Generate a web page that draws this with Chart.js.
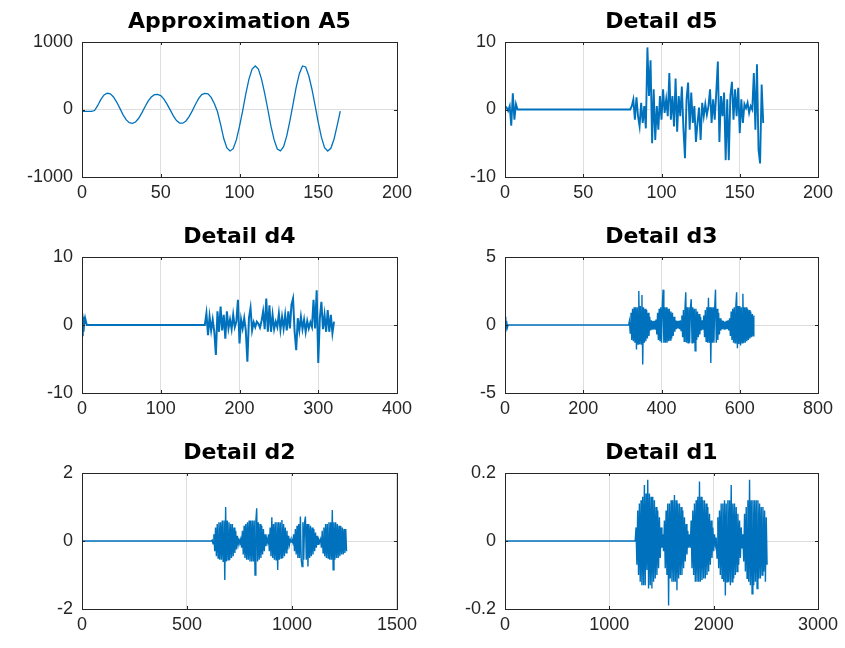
<!DOCTYPE html>
<html>
<head>
<meta charset="utf-8">
<script src="https://cdn.jsdelivr.net/npm/chart.js@4.4.0/dist/chart.umd.min.js"></script>
<style>
  body { margin: 0; background: #fff; }
  .box { position: absolute; }
</style>
</head>
<body>
<div class="box" id="b1" style="left:0px;top:9px;width:422px;height:198px"><canvas id="c1"></canvas></div>
<div class="box" id="b2" style="left:420px;top:9px;width:425px;height:198px"><canvas id="c2"></canvas></div>
<div class="box" id="b3" style="left:0px;top:224px;width:422px;height:199px"><canvas id="c3"></canvas></div>
<div class="box" id="b4" style="left:420px;top:224px;width:425px;height:199px"><canvas id="c4"></canvas></div>
<div class="box" id="b5" style="left:0px;top:440px;width:422px;height:199px"><canvas id="c5"></canvas></div>
<div class="box" id="b6" style="left:420px;top:440px;width:425px;height:199px"><canvas id="c6"></canvas></div>
<script>
// titles and tick labels
var titles = ["Approximation A5", "Detail d5", "Detail d4", "Detail d3", "Detail d2", "Detail d1"];
var xTickLabels = [
  [0, 50, 100, 150, 200],
  [0, 50, 100, 150, 200],
  [0, 100, 200, 300, 400],
  [0, 200, 400, 600, 800],
  [0, 500, 1000, 1500],
  [0, 1000, 2000, 3000]
];
var yTickLabels = [
  [-1000, 0, 1000],
  [-10, 0, 10],
  [-10, 0, 10],
  [-5, 0, 5],
  [-2, 0, 2],
  [-0.2, 0, 0.2]
];

// approximation A5, one value every 2 samples from 0
var a5Step = 2;
var a5Values = [-27, -27, -27, -27, -15, 60, 150, 215, 240, 232, 185, 110, 20, -75, -150, -195, -205,
  -185, -130, -50, 40, 125, 185, 220, 225, 205, 155, 80, -5, -95, -165, -200, -203, -170, -105,
  -20, 75, 160, 220, 240, 232, 180, 90, -30, -220, -430, -570, -615, -580, -450, -250, -20, 230,
  450, 600, 645, 600, 450, 240, 0, -250, -450, -585, -612, -550, -390, -170, 80, 330, 530, 645,
  630, 500, 300, 60, -190, -410, -565, -615, -575, -440, -240, -25];

// detail d5: head from 0 (step 1), burst from 80 (step 1)
var d5Head = [0.5, 0.3, -0.2, 0.5, -2.4, 2.4, -1.5, 0.8, 0];
var d5Start = 80;
var d5Step = 1;
var d5Burst = [0, 0.5, 1.5, -1.5, 1.8, -1, -2.5, 1, -2, 0.5, -2.8, 9.2, 2, 7.3, -5, 3, -4.5, 0.5, -3, 2,
  -1.5, 3, -0.5, 1.5, -1, 5.4, -1.5, 2, -2.5, 4.6, -3.3, 2, -1, 3.4, -2.8, -7.2, 1.5, 4, -3, 2.5,
  -2, 0.5, -4.8, -2, 0.3, -4.5, 1, -1, 0.8, -0.8, 0.5, 3, -2, 1.5, -1.5, 2.5, 7.1, -4.8, 2, -1,
  2.5, -7.5, 1.5, -7.5, 2, 4.1, -1.5, 3, -1, 3.2, -3.5, 1.5, -2, 0.8, 0.2, 1, -0.5, 0.5, 0, 5.4,
  -3, 6.7, -6, -8, 3.7, -2];

// detail d4: head from 0 (step 1), burst from 156 (step 2)
var d4Head = [-1.5, 1.2, -1, 0.8, 0.3, 0.5, 0, 0, 0];
var d4Start = 156;
var d4Step = 2;
var d4Burst = [0, 1.7, -1.5, 1.2, -0.8, 0.8, -1, -4.4, 2, -1, 2.7, -0.8, 1.5, -2, 2, -0.5, 0.8, -0.6,
  1.5, -0.3, 0.5, 3.7, -2.7, 0.8, -0.5, 1, -0.8, -5.4, 1, 2.5, -0.8, 0.4, -0.3, 0.5, 0.2, -0.4,
  0.6, 2, -0.6, 3.9, -1, 2.9, -1, 1.5, -0.6, 0.5, -0.3, 1.7, -0.7, 1.2, -0.5, 1.5, -0.8, 2, -0.5,
  3, 3.9, -1, -3.7, 1, -0.8, 1.2, -0.6, 0.8, -1, 0.6, -0.5, 0.4, -0.3, 3.7, -0.5, 5.1, -5.6, 1,
  3.4, -0.6, 1.5, -1, 2.2, -1, 1.5, -1.2, 0.5];

// detail d3: head from 0 (step 2), burst from 316 (step 2)
var d3Head = [0.6, -0.5, 0.3, -0.2, 0];
var d3Start = 316;
var d3Step = 2;
var d3Burst = [0, 0.3,
  -0.6, 0.9, -1.1, 1.2, -1.2, 1.3, -1.3, 1.3, -1.8, 1.3, -1.4, 2.5, -1.4, 1.4, -1.4, 2.2, -2.9, 1.3,
  -1.3, 1.2, -1.2, 1.1, -1.0, 0.9, -0.8, 0.6,
  -0.4, 0.35, -0.3, 0.3, -0.3, 0.3, -0.35, 0.4,
  -0.7, 0.9, -1.1, 1.2, -1.2, 1.3, -1.3, 1.3, 2.6, -1.3, 1.3, -1.3, 1.3, -1.3, 1.2, -1.2, 1.2, -1.1,
  1.0, -1.0, 0.9, -0.8, 0.6, -0.5,
  0.35, -0.3, 0.3, -0.25, 0.3, -0.3, 0.35, -0.4,
  0.7, -0.9, 1.1, -1.2, 1.2, 2.4, -1.3, 1.3, -1.3, 1.3, -1.3, 1.3, 1.9, -1.3, 1.3, -1.3, 1.2, -1.9,
  1.2, -1.1, 1.0, -0.9, 0.8, -0.7, 0.6, -0.4,
  0.35, -0.35,
  0.7, -0.9, 1.1, -1.2, 1.3, -1.3, 2.0, -1.3, 1.3, -2.8, 1.3, -1.3, 1.3, -1.3, 1.3, 2.6, -1.3, 1.2,
  -1.1, 0.9, -0.7, 0.5,
  -0.4, 0.35, -0.3, 0.3, -0.3, 0.25, -0.3, 0.3, -0.3, 0.35, -0.4, 0.5,
  -0.8, 1.0, -1.1, 1.2, -1.3, 1.3, -1.3, 1.4, 2.4, -1.7, 1.4, -1.4, 1.4, -1.5, 1.3, -1.3, 2.3, -1.3,
  1.3, -1.3, 1.3, -1.2, 1.2, -1.1, 1.1, -1.0, 1.0, -0.9, 0.8, -0.8, 0.7];

// detail d2: burst from 616 (step 4)
var d2Head = [0];
var d2Start = 616;
var d2Step = 4;
var d2Burst = [0, 0.03, -0.08,
  0.2, -0.3, 0.4, -0.45, 0.5, -0.5, 0.55, -0.55, 0.55, -0.55, 0.6, -0.6, 0.6, -1.15, 1.0, -0.6,
  0.6, -0.55, 0.55, -0.55, 0.5, -0.5, 0.5, -0.45, 0.4, -0.35, 0.3, -0.25, 0.15, -0.1,
  0.04, -0.03, 0.06,
  -0.2, 0.3, -0.4, 0.45, -0.5, 0.5, -0.55, 0.55, -0.55, 0.6, -0.6, 0.6, -0.6, 0.6, -0.6, 0.6,
  -1.0, 0.6, 0.96, -0.6, 0.55, -0.55, 0.5, -0.5, 0.45, -0.4, 0.35, -0.3, 0.2, -0.15,
  0.06, -0.04,
  0.2, -0.3, 0.4, -0.45, 0.7, -0.5, 0.5, -0.55, 0.55, -0.55, 0.55, -0.85, 0.55, -0.55, 0.55, -0.5,
  0.62, -0.5, 0.5, -0.45, 0.4, -0.35, 0.3, -0.25, 0.15, -0.1,
  0.04, -0.03, 0.03, -0.05,
  0.2, -0.3, 0.35, -0.4, 0.45, -0.5, 0.5, -0.5, 0.72, -0.55, -0.75, 0.55, -0.55, 0.55, 0.72, -0.55,
  0.5, -0.75, 0.5, -0.5, 0.45, -0.45, 0.4, -0.4, 0.35, -0.3, 0.25, -0.2, 0.15, -0.1,
  0.04, -0.03, 0.05,
  -0.2, 0.3, -0.35, 0.4, -0.45, 0.5, -0.5, 0.5, -0.5, 0.55, -0.55, 0.55, -0.55, 0.91, -0.85, 0.55,
  -0.55, 0.55, -0.5, 0.5, -0.5, 0.45, -0.45, 0.45, -0.4, 0.4, -0.4, 0.35, -0.35, 0.35, -0.3];

// detail d1: burst from 1248 (step 8)
var d1Head = [0];
var d1Start = 1248;
var d1Step = 8;
var d1Burst = [0, 0.04, -0.07, 0.09, -0.1, 0.11, -0.12, 0.12, -0.13, 0.13, -0.13, 0.165, -0.13, 0.14,
  -0.085, 0.18, -0.14, 0.14, -0.13, 0.13, -0.14, 0.13, -0.12, 0.12, -0.11, 0.1, -0.1, 0.09, -0.08,
  0.07, -0.05, 0.04, -0.02,
  0.02, -0.03,
  0.06, -0.08, 0.09, -0.1, 0.11, -0.19, 0.11, -0.11, 0.12, -0.12, 0.12, -0.12, 0.135, -0.12, 0.12,
  -0.145, 0.11, -0.11, 0.11, -0.1, 0.1, -0.1, 0.09, -0.08, 0.07, -0.06, 0.05, -0.04, 0.03, -0.02, 0.02,
  -0.02,
  0.06, -0.08, 0.09, -0.1, 0.11, -0.12, 0.12, -0.12, 0.13, -0.12, 0.175, -0.12, 0.13, -0.115, 0.12,
  -0.11, 0.12, -0.11, 0.11, -0.1, 0.1, -0.09, 0.08, -0.07, 0.06, -0.05, 0.04, -0.03, 0.02, -0.01,
  0.01,
  -0.05, 0.07, -0.08, 0.09, -0.1, 0.11, -0.11, 0.11, -0.12, 0.12, -0.16, 0.11, -0.12, 0.12, -0.12,
  0.12, -0.13, 0.165, -0.12, 0.11, -0.11, 0.11, -0.1, 0.1, -0.09, 0.08, -0.07, 0.06, -0.05, 0.04, -0.02,
  0.02,
  -0.06, 0.08, -0.09, 0.1, -0.11, 0.12, -0.12, 0.18, -0.13, 0.12, -0.155, 0.12, -0.13, 0.12, -0.12,
  0.12, -0.14, 0.12, -0.11, 0.11, -0.11, 0.1, -0.1, 0.1, -0.09, 0.09, -0.12, 0.07, -0.07];

function buildPoints(head, headStep, burst, burstStart, burstStep) {
  var pts = head.map(function (v, i) { return {x: i * headStep, y: v}; });
  burst.forEach(function (v, i) { pts.push({x: burstStart + i * burstStep, y: v}); });
  return pts;
}

var series = [
  buildPoints(a5Values, a5Step, [], 0, 1),
  buildPoints(d5Head, 1, d5Burst, d5Start, d5Step),
  buildPoints(d4Head, 1, d4Burst, d4Start, d4Step),
  buildPoints(d3Head, 2, d3Burst, d3Start, d3Step),
  buildPoints(d2Head, 1, d2Burst, d2Start, d2Step),
  buildPoints(d1Head, 1, d1Burst, d1Start, d1Step)
];
var lineWidths = [1.3, 1.9, 2.0, 1.4, 1.4, 1.4];

var axisColor = "#262626";
var lineColor = "#0072BD";

// matlab style box with inward ticks, title centred on the plot area
var boxPlugin = {
  id: "box",
  afterLayout: function (chart) {
    if (chart.titleBlock) {
      chart.titleBlock.left = chart.chartArea.left;
      chart.titleBlock.right = chart.chartArea.right;
    }
  },
  afterDraw: function (chart) {
    var a = chart.chartArea, ctx = chart.ctx;
    var xs = chart.scales.x, ys = chart.scales.y;
    ctx.save();
    ctx.strokeStyle = axisColor;
    ctx.lineWidth = 1;
    ctx.strokeRect(Math.round(a.left) + 0.5, Math.round(a.top) + 0.5,
      Math.round(a.right - a.left), Math.round(a.bottom - a.top));
    ctx.beginPath();
    xs.ticks.forEach(function (t) {
      var px = Math.round(xs.getPixelForValue(t.value)) + 0.5;
      ctx.moveTo(px, a.bottom); ctx.lineTo(px, a.bottom - 3);
      ctx.moveTo(px, a.top); ctx.lineTo(px, a.top + 3);
    });
    ys.ticks.forEach(function (t) {
      var py = Math.round(ys.getPixelForValue(t.value)) + 0.5;
      ctx.moveTo(a.left, py); ctx.lineTo(a.left + 3, py);
      ctx.moveTo(a.right, py); ctx.lineTo(a.right - 3, py);
    });
    ctx.stroke();
    ctx.restore();
  }
};

function plainLabel(v) { return String(v); }

for (var i = 0; i < 6; i++) {
  var xt = xTickLabels[i], yt = yTickLabels[i];
  var leftCol = (i % 2 === 0);
  var yWidth = leftCol ? 82 : 85;
  new Chart(document.getElementById("c" + (i + 1)), {
    type: "line",
    data: {
      datasets: [{
        data: series[i],
        borderColor: lineColor,
        borderWidth: lineWidths[i],
        borderJoinStyle: "miter",
        pointRadius: 0,
        tension: 0,
        fill: false
      }]
    },
    options: {
      animation: false,
      responsive: true,
      maintainAspectRatio: false,
      layout: {padding: {left: 0, right: leftCol ? 25 : 27, top: 0, bottom: 0}},
      plugins: {
        legend: {display: false},
        tooltip: {enabled: false},
        title: {
          display: true,
          text: titles[i],
          color: "#000",
          font: {family: "DejaVu Sans", size: 22, weight: "bold", lineHeight: 1.2},
          padding: {top: 0, bottom: 6.6}
        }
      },
      scales: {
        x: {
          type: "linear",
          min: xt[0],
          max: xt[xt.length - 1],
          afterBuildTicks: (function (vals) {
            return function (s) { s.ticks = vals.map(function (v) { return {value: v}; }); };
          })(xt),
          ticks: {color: axisColor, font: {family: "Liberation Sans", size: 18}, padding: 5,
            maxRotation: 0, autoSkip: false, callback: plainLabel},
          grid: {color: "#dedede", drawTicks: false},
          border: {color: axisColor},
          afterFit: function (s) { s.height = 30; }
        },
        y: {
          min: yt[0],
          max: yt[yt.length - 1],
          afterBuildTicks: (function (vals) {
            return function (s) { s.ticks = vals.map(function (v) { return {value: v}; }); };
          })(yt),
          ticks: {color: axisColor, font: {family: "Liberation Sans", size: 18}, padding: 9,
            callback: plainLabel},
          grid: {color: "#dedede", drawTicks: false},
          border: {color: axisColor},
          afterFit: (function (w) { return function (s) { s.width = w; }; })(yWidth)
        }
      }
    },
    plugins: [boxPlugin]
  });
}
</script>
</body>
</html>
